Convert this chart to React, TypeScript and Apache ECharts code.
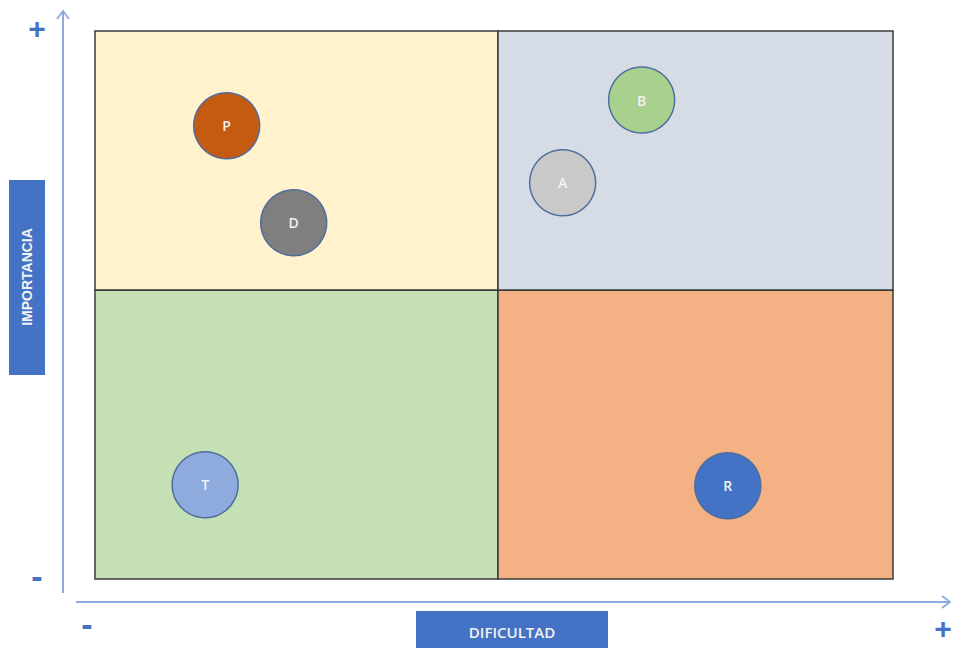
import React, { useEffect, useRef } from "react";
import * as echarts from "echarts";

// Quadrants: [xFrom, xTo, yFrom, yTo]
const quadrantNames = ["Q1", "Q2", "Q3", "Q4"];
const quadrantBounds = [
  [0, 50.5, 52.7, 100],
  [50.5, 100, 52.7, 100],
  [0, 50.5, 0, 52.7],
  [50.5, 100, 0, 52.7],
];
const quadrantColors = ["#FFF2CC", "#D6DCE5", "#C5E0B4", "#F4B183"];

// Items
const itemLabels = ["P", "D", "A", "B", "T", "R"];
const itemDificultad = [16.5, 24.9, 58.6, 68.5, 13.8, 79.3];
const itemImportancia = [82.7, 65.0, 72.3, 87.4, 17.2, 17.0];
const itemColors = ["#C55A11", "#7F7F7F", "#C9C9C9", "#A9D18E", "#8FAADC", "#4472C4"];

const xTitle = "DIFICULTAD";
const yTitle = "IMPORTANCIA";
const plusSign = "+";
const minusSign = "-";

export default function App() {
  const ref = useRef<HTMLDivElement>(null);
  useEffect(() => {
    const chart = echarts.init(ref.current!, null, { renderer: "svg" });
    const axisColor = "#8FAADC";
    const blue = "#4472C4";
    const signStyle = {
      fill: blue,
      fontSize: 30,
      fontWeight: "bold" as const,
      fontFamily: "Liberation Sans",
      align: "center" as const,
      verticalAlign: "middle" as const,
    };
    chart.setOption({
      animation: false,
      grid: { left: 95, right: 60, top: 31, bottom: 69 },
      xAxis: { type: "value", min: 0, max: 100, show: false },
      yAxis: { type: "value", min: 0, max: 100, show: false },
      series: [
        {
          type: "custom",
          z: 1,
          silent: true,
          data: quadrantBounds.map((b, i) => ({ name: quadrantNames[i], value: [...b, i] })),
          renderItem: (params: any, api: any) => {
            const p0 = api.coord([api.value(0), api.value(3)]);
            const p1 = api.coord([api.value(1), api.value(2)]);
            const idx = api.value(4);
            return {
              type: "rect",
              shape: { x: p0[0], y: p0[1], width: p1[0] - p0[0], height: p1[1] - p0[1] },
              style: { fill: quadrantColors[idx], stroke: "#3A3A3A", lineWidth: 1.5 },
            };
          },
        },
        {
          type: "scatter",
          z: 3,
          symbol: "circle",
          symbolSize: 66,
          data: itemLabels.map((l, i) => ({
            name: l,
            value: [itemDificultad[i], itemImportancia[i]],
            itemStyle: { color: itemColors[i], borderColor: "#4F6E9E", borderWidth: 1.5, opacity: 1 },
          })),
          label: {
            show: true,
            position: "inside",
            formatter: "{b}",
            color: "#F2F2F2",
            fontSize: 14,
            fontWeight: 600,
            fontFamily: "Open Sans",
          },
        },
      ],
      graphic: [
        // vertical axis arrow
        { type: "line", shape: { x1: 63, y1: 11, x2: 63, y2: 593 }, style: { stroke: axisColor, lineWidth: 2 } },
        { type: "polyline", shape: { points: [[57, 19], [63, 11], [69, 19]] }, style: { stroke: axisColor, lineWidth: 1.8, fill: null } },
        // horizontal axis arrow
        { type: "line", shape: { x1: 76, y1: 602, x2: 950, y2: 602 }, style: { stroke: axisColor, lineWidth: 2 } },
        { type: "polyline", shape: { points: [[942, 596], [950, 602], [942, 608]] }, style: { stroke: axisColor, lineWidth: 1.8, fill: null } },
        // signs
        { type: "text", x: 37, y: 28, style: { ...signStyle, text: plusSign } },
        { type: "text", x: 37, y: 576, style: { ...signStyle, text: minusSign, fontSize: 34 } },
        { type: "text", x: 87, y: 624, style: { ...signStyle, text: minusSign, fontSize: 34 } },
        { type: "text", x: 943, y: 628, style: { ...signStyle, text: plusSign } },
        // y title box
        { type: "rect", shape: { x: 9, y: 180, width: 36, height: 195 }, style: { fill: blue } },
        {
          type: "text",
          x: 27,
          y: 277,
          rotation: Math.PI / 2,
          style: {
            text: yTitle,
            fill: "#F2F2F2",
            fontSize: 14,
            fontWeight: "bold",
            fontFamily: "Liberation Sans",
            align: "center",
            verticalAlign: "middle",
          },
        },
        // x title box
        { type: "rect", shape: { x: 416, y: 611, width: 192, height: 40 }, style: { fill: blue } },
        {
          type: "text",
          x: 512,
          y: 632,
          style: {
            text: xTitle,
            fill: "#F2F2F2",
            fontSize: 15,
            fontWeight: 600,
            fontFamily: "Open Sans",
            align: "center",
            verticalAlign: "middle",
          },
        },
      ],
    });
    return () => chart.dispose();
  }, []);
  return (
    <div
      ref={ref}
      style={{ position: "absolute", left: 0, top: 0, width: 953, height: 648, background: "#fff" }}
    />
  );
}
